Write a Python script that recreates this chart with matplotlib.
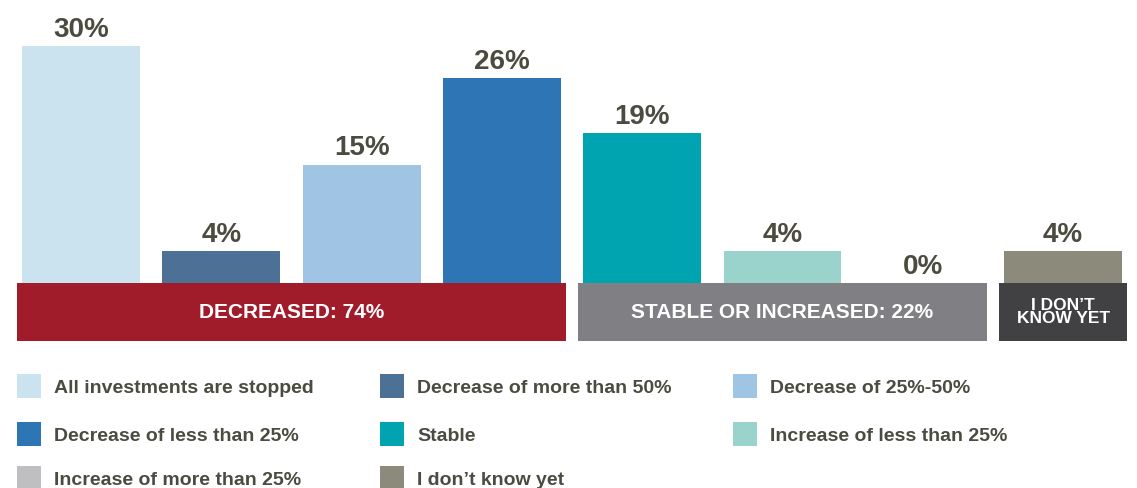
import matplotlib
matplotlib.use("Agg")
import matplotlib.pyplot as plt
from matplotlib.patches import Rectangle
import numpy as np

# ---- data ----
categories = [
    "All investments are stopped",
    "Decrease of more than 50%",
    "Decrease of 25%-50%",
    "Decrease of less than 25%",
    "Stable",
    "Increase of less than 25%",
    "Increase of more than 25%",
    "I don\u2019t know yet",
]
values = [30, 4, 15, 26, 19, 4, 0, 4]
colors = ["#cbe3ef", "#4d7096", "#9fc4e4", "#2e75b6",
          "#00a3b0", "#99d3cb", "#bfbfc1", "#8c8a7b"]

group_labels = ["DECREASED: 74%", "STABLE OR INCREASED: 22%", "I DON\u2019T\nKNOW YET"]
group_sizes = [4, 3, 1]
group_colors = ["#a11c2b", "#808084", "#414143"]
group_fontsizes = [15, 15, 12.5]

# ---- layout ----
W, H, DPI = 1137, 488, 100
FONT = ["Liberation Sans", "DejaVu Sans"]
TXT = "#4b4b40"

fig = plt.figure(figsize=(W / DPI, H / DPI), dpi=DPI)
fig.patch.set_facecolor("white")

first_px, step_px = 81.0, 140.3        # pixel centre of first bar, pixel step
base_px, ppp = 283.0, 7.9               # baseline (from top), pixels per percent
ax = fig.add_axes([0, 0, 1, 1])
ax.set_xlim(-first_px / step_px, (W - first_px) / step_px)
ax.set_ylim(-(H - base_px) / ppp, base_px / ppp)
ax.axis("off")

x = np.arange(len(values))
ax.bar(x, values, width=0.84, color=colors, linewidth=0)

for xi, v in zip(x, values):
    ax.annotate(f"{v}%", (xi, v), xytext=(0, 6.5), textcoords="offset points",
                ha="center", va="baseline", fontsize=20, fontweight="bold",
                color=TXT, family=FONT)

# group bands
band_h = (341 - base_px) / ppp
start = 0
for lab, n, c, fs in zip(group_labels, group_sizes, group_colors, group_fontsizes):
    x0 = start - 0.455
    x1 = start + n - 1 + 0.455
    ax.add_patch(Rectangle((x0, -band_h), x1 - x0, band_h, color=c, linewidth=0))
    ax.text((x0 + x1) / 2, -band_h / 2, lab, ha="center", va="center",
            fontsize=fs, fontweight="bold", color="white", family=FONT,
            linespacing=0.9)
    start += n

# legend (pixel coordinate overlay)
lg = fig.add_axes([0, 0, 1, 1])
lg.set_xlim(0, W)
lg.set_ylim(H, 0)
lg.axis("off")
col_x = [17, 380, 733]
row_y = [386, 434, 478]
for i, (lab, c) in enumerate(zip(categories, colors)):
    r, k = divmod(i, 3)
    cx, cy = col_x[k], row_y[r]
    lg.add_patch(Rectangle((cx, cy - 12), 24, 24, color=c, linewidth=0))
    lg.text(cx + 37, cy + 2.5, lab, ha="left", va="center", fontsize=14,
            fontweight="bold", color=TXT, family=FONT)

fig.savefig("out.png", dpi=DPI, facecolor="white")
